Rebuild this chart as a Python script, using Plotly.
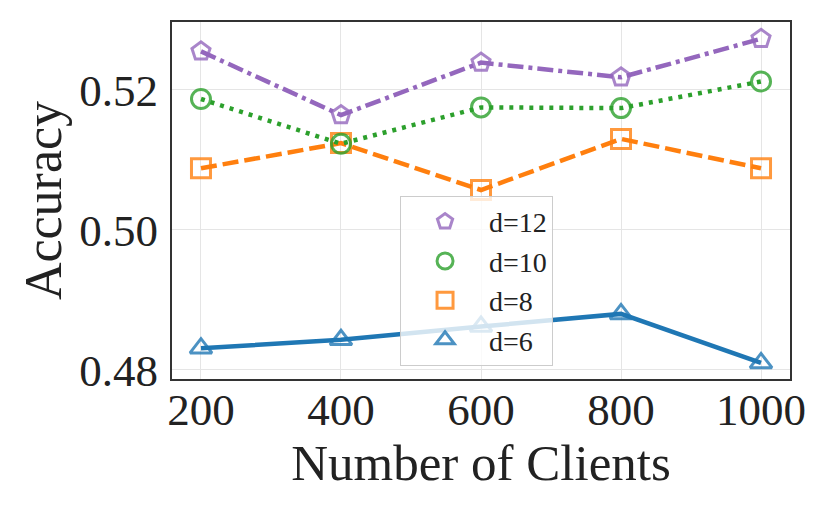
import plotly.graph_objects as go

clients = [200, 400, 600, 800, 1000]
acc_d6 = [0.4831, 0.4843, 0.4862, 0.4880, 0.4810]
acc_d8 = [0.5088, 0.5124, 0.5057, 0.5130, 0.5088]
acc_d10 = [0.5187, 0.5123, 0.5175, 0.5174, 0.5212]
acc_d12 = [0.5255, 0.5164, 0.5239, 0.5218, 0.5273]
y_ticks = [0.48, 0.50, 0.52]
x_ticks = [200, 400, 600, 800, 1000]

series = [
    ("d=6", acc_d6, "#1f77b4", "rgba(31,119,180,0.8)", "solid", "triangle-up-open"),
    ("d=8", acc_d8, "#ff7f0e", "rgba(255,127,14,0.8)", "16px,6px", "square-open"),
    ("d=10", acc_d10, "#2ca02c", "rgba(44,160,44,0.8)", "4px,6px", "circle-open"),
    ("d=12", acc_d12, "#9467bd", "rgba(148,103,189,0.8)", "16px,5px,4px,5px", "pentagon-open"),
]

FONT = "Liberation Serif"
fig = go.Figure()
for name, vals, lc, mc, dash, sym in series:
    fig.add_trace(go.Scatter(
        x=clients, y=vals, mode="lines+markers", name=name, showlegend=False,
        line=dict(color=lc, width=4.5, dash=dash),
        marker=dict(symbol=sym, size=19, color=mc, line=dict(width=3, color=mc)),
    ))
# legend-only entries (markers only), ordered d=12 .. d=6
for name, vals, lc, mc, dash, sym in reversed(series):
    fig.add_trace(go.Scatter(
        x=[None], y=[None], mode="markers", name=name, legendgroup=name,
        marker=dict(symbol=sym, size=19, color=mc, line=dict(width=3, color=mc)),
    ))

fig.update_layout(
    width=831, height=514,
    margin=dict(l=164, r=49, t=14, b=143),
    paper_bgcolor="white", plot_bgcolor="white",
    font=dict(family=FONT, color="#222222"),
    legend=dict(
        x=0.369, y=0.513, xanchor="left", yanchor="top",
        bgcolor="rgba(255,255,255,0.8)", bordercolor="#cccccc", borderwidth=1,
        font=dict(family=FONT, size=28, color="#222222"),
        itemwidth=78, tracegroupgap=4, traceorder="normal",
    ),
    xaxis=dict(
        range=[158.6, 1041.4], tickvals=x_ticks, ticktext=[str(v) for v in x_ticks],
        showgrid=True, gridcolor="#e5e5e5", gridwidth=1,
        showline=True, linecolor="#333333", linewidth=2, mirror=True,
        ticks="", ticklen=0, tickfont=dict(family=FONT, size=45, color="#222222"),
        ticklabelstandoff=-10, automargin=False,
        title=dict(text="Number of Clients", font=dict(family=FONT, size=51, color="#222222"), standoff=0),
        zeroline=False,
    ),
    yaxis=dict(
        range=[0.4787, 0.5297], tickvals=y_ticks, ticktext=[f"{v:.2f}" for v in y_ticks],
        showgrid=True, gridcolor="#e5e5e5", gridwidth=1,
        showline=True, linecolor="#333333", linewidth=2, mirror=True,
        ticks="", ticklen=0, tickfont=dict(family=FONT, size=45, color="#222222"),
        ticklabelstandoff=3, automargin=False,
        title=dict(text="Accuracy", font=dict(family=FONT, size=52, color="#222222"), standoff=1),
        zeroline=False,
    ),
)
fig.write_html("out.html")
